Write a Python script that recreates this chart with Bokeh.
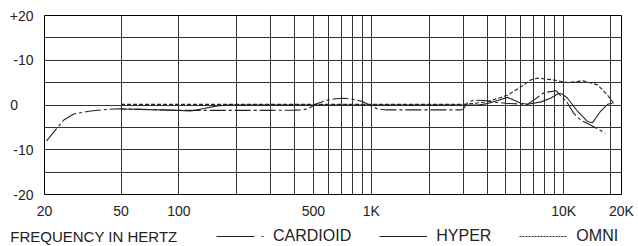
from bokeh.plotting import figure
from bokeh.layouts import column
from bokeh.models import Range1d, FixedTicker, Legend, LegendItem
from bokeh.embed import file_html
from bokeh.resources import INLINE

# ---- data ----
x_tick_values = [20, 50, 100, 500, 1000, 10000, 20000]
x_tick_labels = ["20", "50", "100", "500", "1K", "10K", "20K"]
x_grid_values = [50, 100, 200, 300, 400, 500, 600, 700, 800, 900, 1000,
                 2000, 3000, 4000, 5000, 6000, 7000, 8000, 9000, 10000, 17500]
y_grid_values = [-15, -10, -5, 0, 5, 10, 15]
y_tick_values = [20, 10, 0, -10, -20]
y_tick_labels = ["+20", "-10", "0", "-10", "-20"]

cardioid_freq = [20.5, 22.4, 25.2, 28.4, 34.7, 42, 49.4, 70, 100, 150, 200, 300, 400, 444,
                 480, 520, 580, 650, 720, 800, 900, 1000, 1080, 1200, 2000, 2900, 3000,
                 3150, 3400, 3900, 4200, 5000, 6000, 6500, 7000, 7900, 9150, 10490, 11300,
                 12250, 13800, 16500]
cardioid_db = [-8.0, -6.0, -3.35, -2.0, -1.35, -1.0, -0.85, -1.0, -1.2, -1.2, -1.2, -1.2,
               -1.15, -1.1, -0.6, 0.3, 1.0, 1.4, 1.5, 1.3, 0.8, -0.2, -0.9, -1.1, -1.1,
               -1.1, -1.0, 0.4, 1.1, 1.0, 0.7, 0.4, 0.2, 0.15, 1.1, 2.75, 3.2, 0.4, -1.85,
               -3.35, -4.45, -6.3]

hyper_freq = [50, 100, 115, 135, 158, 180, 500, 1000, 2000, 3000, 3600, 4000, 4536, 5114,
              5977, 6510, 7630, 8550, 9350, 9800, 10490, 11870, 13330, 14130, 15500, 16930,
              17950]
hyper_db = [-0.9, -1.2, -1.35, -0.8, -0.2, 0.0, 0.0, 0.0, 0.0, 0.0, 0.0, 0.3, 1.0, 1.7,
            0.4, 0.15, 0.7, 1.5, 2.5, 2.5, 1.5, -1.5, -3.7, -3.95, -1.5, 0.15, 0.4]

omni_freq = [50, 100, 200, 500, 1000, 2000, 3000, 3500, 4026, 5114, 5977, 6737, 7324,
             8872, 10490, 12700, 15020, 16930, 18200]
omni_db = [0.15, 0.15, 0.15, 0.15, 0.15, 0.15, 0.15, 0.4, 0.75, 2.2, 4.0, 5.6, 6.0,
           5.6, 5.0, 5.4, 4.5, 2.2, 0.4]

series_names = ["CARDIOID", "HYPER", "OMNI"]
x_title = "FREQUENCY IN HERTZ"

FONT = "Liberation Sans"
INK = "#222222"
CARD_DASH = "16 3 3 3"
OMNI_DASH = "4 2"

# ---------------- main chart ----------------
MAIN_H = 222
p = figure(width=638, height=MAIN_H, x_axis_type="log",
           x_range=Range1d(20, 20000), y_range=Range1d(-20, 20),
           output_backend="svg", toolbar_location=None,
           min_border_left=44, min_border_right=17, min_border_top=15, min_border_bottom=28)

p.outline_line_color = "black"
p.outline_line_width = 1
p.background_fill_color = "white"
p.border_fill_color = "white"

p.xgrid.ticker = FixedTicker(ticks=x_grid_values)
p.ygrid.ticker = FixedTicker(ticks=y_grid_values)
for g in (p.xgrid, p.ygrid):
    g.grid_line_color = "#333333"
    g.grid_line_width = 1
    g.grid_line_alpha = 1.0

p.xaxis.ticker = FixedTicker(ticks=x_tick_values)
p.xaxis.major_label_overrides = {v: t for v, t in zip(x_tick_values, x_tick_labels)}
p.xaxis.major_label_standoff = 8

# y labels are left-aligned in the reference: pad the short "0" with no-break spaces
NBSP = "\u00a0"
p.yaxis.ticker = FixedTicker(ticks=y_tick_values)
p.yaxis.major_label_overrides = {
    v: (t + NBSP * 4 if len(t) == 1 else t) for v, t in zip(y_tick_values, y_tick_labels)}
p.yaxis.major_label_standoff = 11

for ax in (p.xaxis, p.yaxis):
    ax.axis_line_color = None
    ax.major_tick_line_color = None
    ax.minor_tick_line_color = None
    ax.major_tick_out = 0
    ax.major_tick_in = 0
    ax.major_label_text_font = FONT
    ax.major_label_text_font_size = "14px"
    ax.major_label_text_color = INK

p.line(cardioid_freq, cardioid_db, line_color=INK, line_width=1.1, line_dash=CARD_DASH)
p.line(hyper_freq, hyper_db, line_color=INK, line_width=1.1)
p.line(omni_freq, omni_db, line_color=INK, line_width=1.1, line_dash=OMNI_DASH)

# ---------------- key row (its frame is aligned with the chart's frame) ----------------
KEY_H = 24
FRAME_LEFT = 44          # frame left edge shared with the chart
TITLE_LEFT = 10          # where "FREQUENCY IN HERTZ" starts
TEXT_MID = 236           # vertical centre of the key row texts (page px)

k = figure(width=638, height=KEY_H, x_range=Range1d(0, 1), y_range=Range1d(0, 1),
           x_axis_location=None, y_axis_location="left",
           output_backend="svg", toolbar_location=None,
           min_border_left=FRAME_LEFT, min_border_right=17, min_border_top=0, min_border_bottom=0)
k.outline_line_color = None
k.background_fill_color = "white"
k.border_fill_color = "white"
k.grid.visible = False

# the x-axis title sits at the left of the key row: shown as the key row's single tick label
title_y = 1 - (TEXT_MID - MAIN_H) / KEY_H
title_px = 167  # approximate rendered width of the title at 15px
ka = k.yaxis[0]
ka.ticker = FixedTicker(ticks=[title_y])
ka.major_label_overrides = {title_y: x_title}
ka.axis_line_color = None
ka.major_tick_line_color = None
ka.minor_tick_line_color = None
ka.major_tick_out = 0
ka.major_tick_in = 0
ka.major_label_standoff = -(title_px - (FRAME_LEFT - TITLE_LEFT))
ka.major_label_text_font = FONT
ka.major_label_text_font_size = "15px"
ka.major_label_text_color = INK

# key sample renderers: their points lie outside the key row's range, only the style is shown
off = [5, 6]
lc = k.line(off, off, line_color=INK, line_width=1.1, line_dash="38 7 2 60")
lh = k.line(off, off, line_color=INK, line_width=1.1)
lo = k.line(off, off, line_color=INK, line_width=1.1, line_dash="2 1")

legend = Legend(items=[LegendItem(label=series_names[0], renderers=[lc]),
                       LegendItem(label=series_names[1], renderers=[lh]),
                       LegendItem(label=series_names[2], renderers=[lo])],
                orientation="horizontal", location=(216 - FRAME_LEFT, 1),
                glyph_width=48, glyph_height=16, label_height=16,
                label_standoff=9, spacing=28, padding=0, margin=0,
                border_line_color=None, background_fill_alpha=0,
                label_text_font=FONT, label_text_font_size="16px",
                label_text_color=INK)
k.add_layout(legend, "center")

open("out.html", "w").write(file_html(column(p, k, spacing=0), INLINE))
